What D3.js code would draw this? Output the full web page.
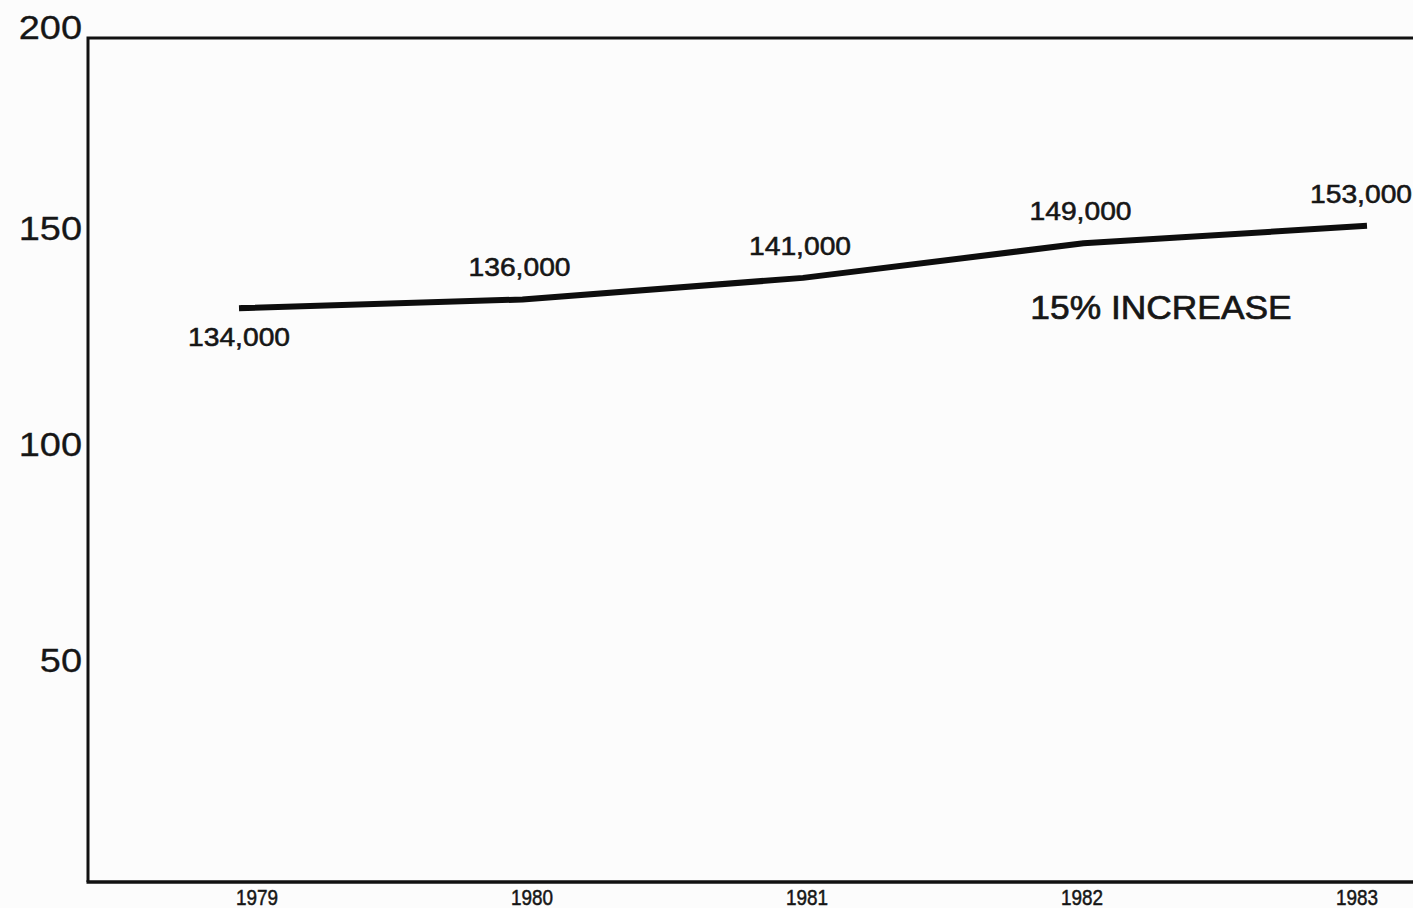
<!DOCTYPE html>
<html>
<head>
<meta charset="utf-8">
<script src="https://cdn.jsdelivr.net/npm/d3@7"></script>
<style>
  html, body { margin: 0; padding: 0; background: #fcfcfc; }
  svg { display: block; }
  text { font-family: "Liberation Sans", Arial, Helvetica, sans-serif; fill: #161616; }
</style>
</head>
<body>
<svg id="chart" width="1413" height="908"></svg>
<script>
// Annual totals, in thousands
const years = [1979, 1980, 1981, 1982, 1983];
const totals = [134, 136, 141, 149, 153];
const labelSide = ["below", "above", "above", "above", "above"];
const yTicks = [200, 150, 100, 50];
const note = "15% INCREASE";

const W = 1413, H = 908;
const frame = { left: 88, top: 38, bottom: 882 };

const svg = d3.select("#chart");

svg.append("rect").attr("width", W).attr("height", H).attr("fill", "#fcfcfc");

const x = d3.scaleLinear().domain([1979, 1983]).range([242, 1364]);
const xAxis = d3.scalePoint().domain(years).range([257, 1357]);
const y = d3.scaleLinear().domain([0, 200]).range([887, 23]);

// Frame: left and top rule, plus the baseline
svg.append("path")
  .attr("d", `M${frame.left},${frame.bottom} V${frame.top} H${W + 5}`)
  .attr("fill", "none").attr("stroke", "#111").attr("stroke-width", 3);
svg.append("path")
  .attr("d", `M${frame.left - 1.5},${frame.bottom} H${W + 5}`)
  .attr("fill", "none").attr("stroke", "#111").attr("stroke-width", 3.5);

// Value axis labels (right aligned against the left rule)
svg.append("g").selectAll("g")
  .data(yTicks)
  .join("g")
  .attr("transform", d => `translate(82,${Math.max(y(d), frame.top) + 1}) scale(1.15,1)`)
  .append("text")
  .attr("text-anchor", "end")
  .attr("font-size", 33)
  .attr("stroke", "#161616")
  .attr("stroke-width", 0.3)
  .text(d => d);

// Year labels under the baseline
svg.append("g").selectAll("g")
  .data(years)
  .join("g")
  .attr("transform", d => `translate(${xAxis(d)},905) scale(0.86,1)`)
  .append("text")
  .attr("text-anchor", "middle")
  .attr("font-size", 22)
  .attr("stroke", "#161616")
  .attr("stroke-width", 0.5)
  .text(d => d);

// Trend line
const pts = years.map((yr, i) => ({ yr, v: totals[i], side: labelSide[i] }));
const line = d3.line().x(d => x(d.yr)).y(d => y(d.v));
svg.append("path")
  .datum(pts)
  .attr("d", line)
  .attr("fill", "none")
  .attr("stroke", "#0d0d0d")
  .attr("stroke-width", 6)
  .attr("stroke-linecap", "square")
  .attr("stroke-linejoin", "round");

// Point labels
const fmt = d3.format(",");
svg.append("g").selectAll("g")
  .data(pts)
  .join("g")
  .attr("transform", d => `translate(${x(d.yr) - 3},${y(d.v) + (d.side === "below" ? 38 : -23)}) scale(1.13,1)`)
  .append("text")
  .attr("text-anchor", "middle")
  .attr("font-size", 25)
  .attr("stroke", "#161616")
  .attr("stroke-width", 0.55)
  .text(d => fmt(d.v * 1000));

// Growth note
svg.append("g")
  .attr("transform", "translate(1161,319) scale(1.04,1)")
  .append("text")
  .attr("text-anchor", "middle")
  .attr("font-size", 34)
  .attr("stroke", "#161616")
  .attr("stroke-width", 0.7)
  .text(note);
</script>
</body>
</html>
